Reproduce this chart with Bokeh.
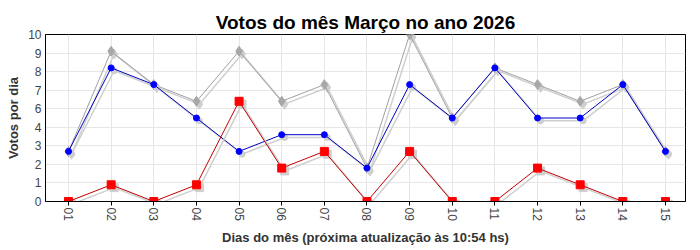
from bokeh.plotting import figure
from bokeh.models import ColumnDataSource, Range1d, FixedTicker, NumeralTickFormatter
from bokeh.transform import dodge
from bokeh.embed import file_html
from bokeh.resources import INLINE
import math

# ---- data ----
days = [1, 2, 3, 4, 5, 6, 7, 8, 9, 10, 11, 12, 13, 14, 15]
day_labels = ["01", "02", "03", "04", "05", "06", "07", "08", "09", "10",
              "11", "12", "13", "14", "15"]
grey_values = [3, 9, 7, 6, 9, 6, 7, 2, 10, 5, 8, 7, 6, 7, 3]
blue_values = [3, 8, 7, 5, 3, 4, 4, 2, 7, 5, 8, 5, 5, 7, 3]
red_values = [0, 1, 0, 1, 6, 2, 3, 0, 3, 0, 0, 2, 1, 0, 0]
y_ticks = [0, 1.1111, 2.2222, 3.3333, 4.4444, 5.5556, 6.6667, 7.7778, 8.8889, 10]

FONT = "Liberation Sans"

src = ColumnDataSource(dict(x=days, g=grey_values, b=blue_values, r=red_values))

p = figure(width=700, height=250, output_backend="svg", toolbar_location=None,
           x_range=Range1d(0.46, 15.47), y_range=Range1d(0, 10),
           min_border_left=45, min_border_right=15, min_border_top=34,
           min_border_bottom=49)

p.title.text = "Votos do mês Março no ano 2026"
p.title.text_font = FONT
p.title.text_font_size = "19px"
p.title.text_font_style = "bold"
p.title.text_color = "#000000"
p.title.align = "center"
p.title.standoff = 3

p.outline_line_color = "#000000"
p.outline_line_width = 1
p.background_fill_color = "#ffffff"
p.border_fill_color = "#ffffff"

# axes
xa = p.xaxis[0]
xa.ticker = FixedTicker(ticks=days)
xa.major_label_overrides = {d: l for d, l in zip(days, day_labels)}
xa.major_label_orientation = -math.pi / 2
xa.major_tick_out = 4
xa.major_tick_in = 0
xa.minor_tick_out = 0
xa.minor_tick_in = 0
xa.axis_line_color = "#000000"
xa.major_tick_line_color = "#000000"
xa.major_label_text_font = FONT
xa.major_label_text_font_size = "12px"
xa.major_label_text_color = "#444444"
xa.major_label_standoff = 2
xa.axis_label = "Dias do mês (próxima atualização às 10:54 hs)"
xa.axis_label_text_font = FONT
xa.axis_label_text_font_size = "13px"
xa.axis_label_text_font_style = "bold"
xa.axis_label_text_color = "#333333"
xa.axis_label_standoff = 6

ya = p.yaxis[0]
ya.ticker = FixedTicker(ticks=y_ticks)
ya.formatter = NumeralTickFormatter(format="0")
ya.major_tick_out = 0
ya.major_tick_in = 0
ya.minor_tick_out = 0
ya.minor_tick_in = 0
ya.axis_line_color = "#000000"
ya.major_label_text_font = FONT
ya.major_label_text_font_size = "12px"
ya.major_label_text_color = "#444444"
ya.major_label_standoff = 4
ya.axis_label = "Votos por dia"
ya.axis_label_text_font = FONT
ya.axis_label_text_font_size = "13px"
ya.axis_label_text_font_style = "bold"
ya.axis_label_text_color = "#333333"
ya.axis_label_standoff = 4

p.xgrid.ticker = FixedTicker(ticks=days)
p.ygrid.ticker = FixedTicker(ticks=y_ticks)
p.xgrid.grid_line_color = "#e6e6e6"
p.ygrid.grid_line_color = "#e6e6e6"

SH = "#cfcfcf"
sx = dodge("x", 0.07, range=p.x_range)
def sy(col):
    return dodge(col, -0.17, range=p.y_range)

# grey series
p.line(sx, sy("g"), source=src, line_color=SH, line_width=1.5)
p.scatter(sx, sy("g"), source=src, marker="diamond", size=10, fill_color=SH, line_color=SH)
p.line("x", "g", source=src, line_color="#a0a0a0", line_width=1)
p.scatter("x", "g", source=src, marker="diamond", size=10, fill_color="#a8a8a8", line_color="#a8a8a8")

# blue series
p.line(sx, sy("b"), source=src, line_color=SH, line_width=1.5)
p.scatter(sx, sy("b"), source=src, marker="circle", size=6, fill_color=SH, line_color=SH)
p.line("x", "b", source=src, line_color="#0000c0", line_width=1)
p.scatter("x", "b", source=src, marker="circle", size=6, fill_color="#0000ff", line_color="#0000ff")

# red series
p.line(sx, sy("r"), source=src, line_color=SH, line_width=1.5)
p.scatter(sx, sy("r"), source=src, marker="square", size=8, fill_color=SH, line_color=SH)
p.line("x", "r", source=src, line_color="#c00000", line_width=1)
p.scatter("x", "r", source=src, marker="square", size=8, fill_color="#ff0000", line_color="#ff0000")

open("out.html", "w").write(file_html(p, INLINE))
